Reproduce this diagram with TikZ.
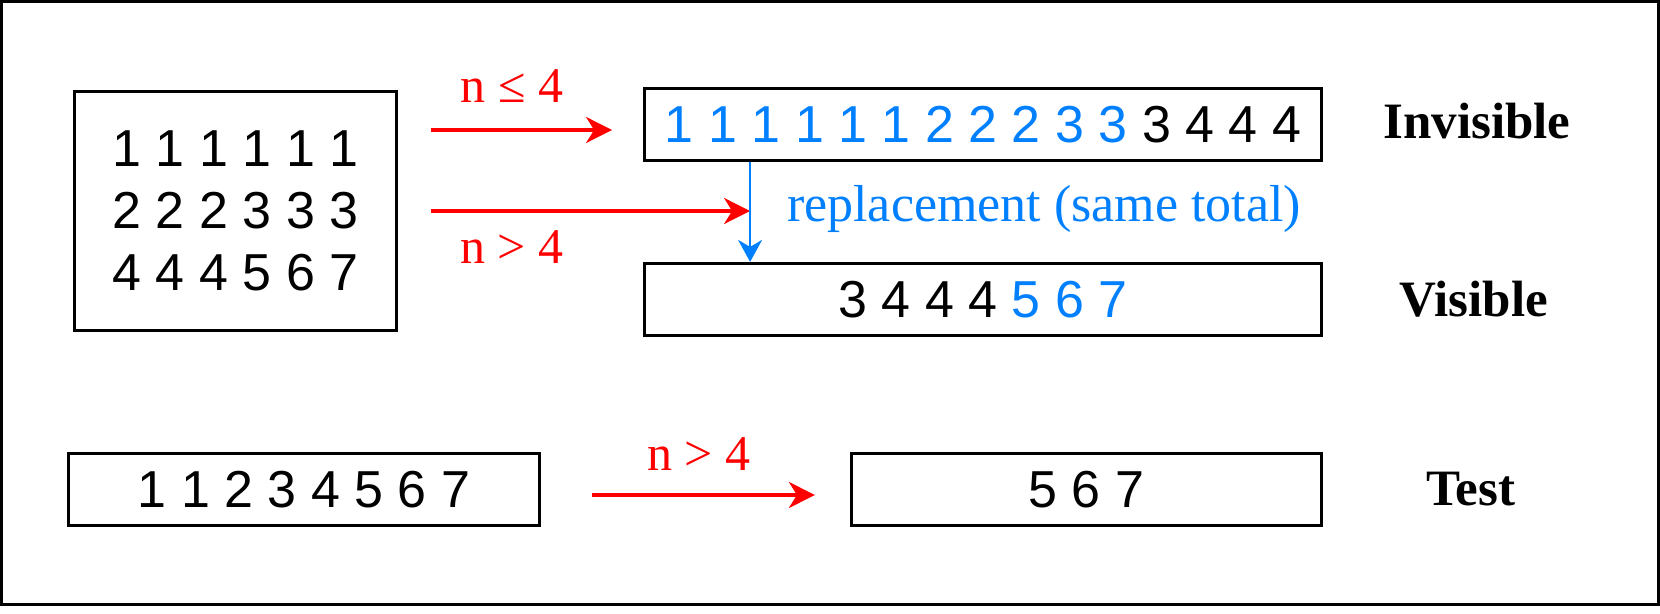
\documentclass[tikz,border=0pt]{standalone}
\usepackage{fontspec}
\setmainfont{Liberation Serif}
\newfontfamily\digitfont{Liberation Sans}
\usetikzlibrary{arrows.meta, positioning, calc}

\definecolor{repblue}{RGB}{0,128,255}

\begin{document}
\begin{tikzpicture}[
          numbox/.style={rectangle, draw=black, line width=1.4pt, minimum height=36pt, inner sep=0pt, align=center, font=\digitfont\fontsize{26}{31}\selectfont},
          redarrow/.style={-{Stealth[length=13pt, width=13pt, inset=4pt]}, line width=1.6pt, color=red},
          bluearrow/.style={-{Stealth[length=11pt, width=12pt, inset=3.5pt]}, line width=1pt, color=repblue},
          cond/.style={font=\fontsize{25}{30}\selectfont, color=red, anchor=base},
          tag/.style={font=\bfseries\fontsize{25.5}{31}\selectfont}]

        \useasboundingbox (0,0) rectangle (830pt,-307pt);
        \draw [line width=1.5pt] (0.75pt,-0.75pt) rectangle (829pt,-302pt);

        \node [numbox, minimum width=161pt, minimum height=119.5pt] (src) at (117.75pt,-105.5pt) {1 1 1 1 1 1\\2 2 2 3 3 3\\4 4 4 5 6 7};
        \node [numbox, minimum width=338.5pt] (inv) at (491.5pt,-62.25pt) {\textcolor{repblue}{1 1 1 1 1 1 2 2 2 3 3} 3 4 4 4};
        \node [numbox, minimum width=338.5pt, below=50pt of inv] (vis) {3 4 4 4 \textcolor{repblue}{5 6 7}};
        \node [numbox, minimum width=235.5pt] (tin) at (152pt,-244.75pt) {1 1 2 3 4 5 6 7};
        \node [numbox, minimum width=235pt, right=154.5pt of tin] (tout) {5 6 7};

        \node [tag] (invtag) at ([xshift=77pt, yshift=1.5pt]inv.east) {Invisible};
        \node [tag] (vistag) at ([xshift=75.5pt]vis.east) {Visible};
        \node [tag] (testtag) at ([xshift=74pt]tout.east) {Test};

        \coordinate (drop) at ([xshift=53.5pt]inv.south west);
        \coordinate (in1) at ([yshift=-2.75pt]inv.west);
        \coordinate (in3) at ([yshift=-2.75pt]tout.west);

        \draw [redarrow, shorten <=16.5pt, shorten >=15.5pt] (src.east |- in1) -- node[cond, pos=0.465, yshift=13.5pt]{n ≤ 4} (in1);
        \draw [redarrow, shorten <=16.5pt] (src.east) -- node[cond, pos=0.323, yshift=-26.5pt]{n > 4} (src.east -| drop);
        \draw [bluearrow] (drop) -- node[pos=0.5, anchor=base west, xshift=18pt, yshift=-5pt, inner sep=0pt, font=\fontsize{26}{31}\selectfont, color=repblue]{replacement (same total)} (drop |- vis.north);
        \draw [redarrow, shorten <=25.5pt, shorten >=17.5pt] (tin.east |- in3) -- node[cond, pos=0.511, yshift=12pt]{n > 4} (in3);
      \end{tikzpicture}
\end{document}
